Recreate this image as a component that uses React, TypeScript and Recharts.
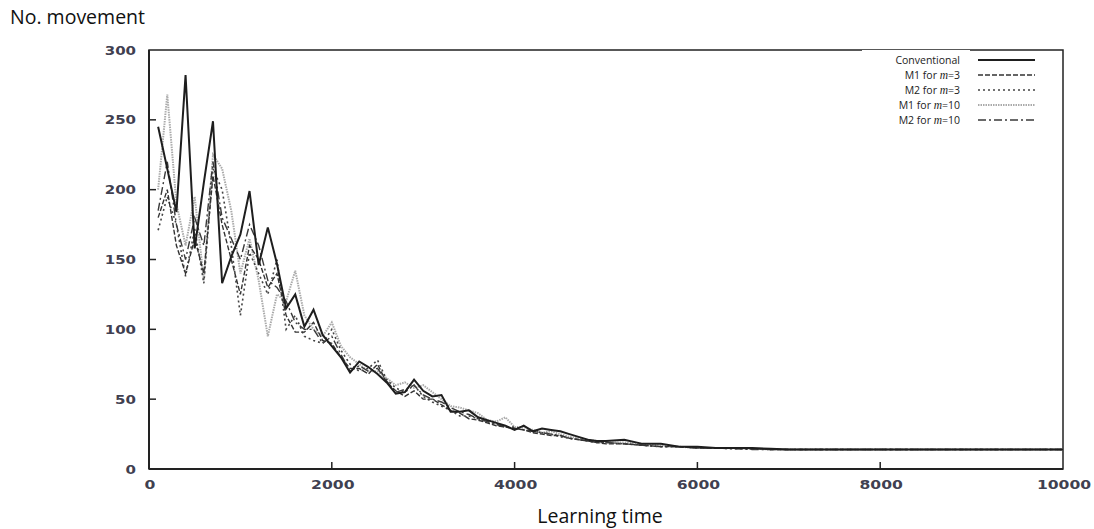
import React from 'react';
import { LineChart, Line, XAxis, YAxis, ReferenceArea, Legend, Label } from 'recharts';

const times = [
  100, 200, 300, 400, 500, 600, 700, 800, 900, 1000,
  1100, 1200, 1300, 1400, 1500, 1600, 1700, 1800, 1900, 2000,
  2100, 2200, 2300, 2400, 2500, 2600, 2700, 2800, 2900, 3000,
  3100, 3200, 3300, 3400, 3500, 3600, 3700, 3800, 3900, 4000,
  4100, 4200, 4300, 4400, 4500, 4600, 4700, 4800, 4900, 5000,
  5200, 5400, 5600, 5800, 6000, 6200, 6400, 6600, 6800, 7000,
  8000, 9000, 10000,
];

const conventional = [
  245, 215, 184, 282, 158, 205, 249, 133, 152, 168,
  199, 146, 173, 147, 115, 125, 102, 114, 96, 88,
  80, 69, 77, 73, 68, 62, 54, 55, 64, 56,
  52, 53, 41, 41, 42, 37, 35, 33, 31, 28,
  31, 27, 29, 28, 27, 25, 23, 21, 20, 20,
  21, 18, 18, 16, 16, 15, 15, 15, 14.5, 14,
  14, 14, 14,
];

const m1m3 = [
  180, 200, 160, 140, 165, 140, 210, 175, 150, 125,
  160, 150, 130, 140, 110, 98, 98, 105, 92, 90,
  80, 72, 72, 68, 75, 62, 56, 52, 56, 50,
  50, 46, 42, 40, 36, 35, 33, 31, 30, 29,
  28, 26, 25, 24, 24, 22, 21, 20, 19, 18,
  18, 17, 16, 16, 15, 15, 15, 14.5, 14, 14,
  14, 14, 14,
];

const m2m3 = [
  171, 195, 175, 138, 172, 133, 215, 200, 160, 110,
  155, 140, 125, 150, 100, 110, 95, 92, 90, 100,
  85, 75, 70, 72, 78, 64, 58, 55, 60, 52,
  48, 45, 42, 38, 38, 36, 34, 32, 30, 30,
  28, 27, 26, 25, 23, 22, 21, 20, 19, 19,
  18, 17, 16, 16, 15, 15, 14.5, 14.5, 14, 14,
  14, 14, 14,
];

const m1m10 = [
  200, 268, 190, 160, 195, 135, 225, 215, 185, 140,
  165, 135, 95, 125, 120, 142, 110, 100, 95, 105,
  88, 80, 75, 70, 70, 65, 60, 62, 58, 60,
  55, 50, 45, 44, 42, 40, 35, 34, 37, 30,
  30, 28, 26, 27, 25, 23, 22, 21, 20, 19,
  19, 18, 17, 16, 15, 15, 15, 14.5, 14, 14,
  14, 14, 14,
];

const m2m10 = [
  185, 220, 175, 150, 180, 160, 220, 180, 165, 150,
  175, 160, 135, 130, 120, 105, 100, 100, 90, 95,
  82, 70, 74, 70, 72, 63, 55, 57, 60, 53,
  50, 48, 44, 41, 39, 36, 34, 32, 30, 29,
  28, 27, 26, 25, 24, 22, 21, 20, 19, 19,
  18, 17, 16, 16, 15, 15, 14.5, 14, 14, 14,
  14, 14, 14,
];

const xTicks = [0, 2000, 4000, 6000, 8000, 10000];
const yTicks = [0, 50, 100, 150, 200, 250, 300];

const seriesDefs = [
  { key: 'conv', name: 'Conventional', m: '', color: '#1e1e1e', width: 2, dash: undefined as string | undefined },
  { key: 'm1m3', name: 'M1 for ', m: '=3', color: '#333', width: 1.4, dash: '5 2' },
  { key: 'm2m3', name: 'M2 for ', m: '=3', color: '#444', width: 1.6, dash: '2 3' },
  { key: 'm1m10', name: 'M1 for ', m: '=10', color: '#aaa', width: 2, dash: '1.5 1' },
  { key: 'm2m10', name: 'M2 for ', m: '=10', color: '#3a3a3a', width: 1.4, dash: '8 3 2 3' },
];

const data = times.map((t, i) => ({
  t,
  conv: conventional[i],
  m1m3: m1m3[i],
  m2m3: m2m3[i],
  m1m10: m1m10[i],
  m2m10: m2m10[i],
}));

const tickFont = {
  fontFamily: '"DejaVu Sans", sans-serif',
  fontWeight: 'bold' as const,
  fontSize: 12,
  fill: '#404050',
};

const YTick = (props: any) => {
  const { x, y, payload } = props;
  const v = payload.value;
  return (
    <g>
      {v !== 0 && v !== 300 && <line x1={x} x2={x + 7} y1={y} y2={y} stroke="#222" strokeWidth={1.5} />}
      <text
        transform={`translate(${x - 13},${y + 4.5}) scale(1.25,1)`}
        textAnchor="end"
        {...tickFont}
      >
        {v}
      </text>
    </g>
  );
};

const XTick = (props: any) => {
  const { x, y, payload } = props;
  const v = payload.value;
  return (
    <g>
      {v !== 0 && v !== 10000 && <line x1={x} x2={x} y1={y} y2={y - 7} stroke="#222" strokeWidth={1.5} />}
      <text
        transform={`translate(${x + 1},${y + 20}) scale(1.3,1)`}
        textAnchor="middle"
        {...tickFont}
      >
        {v}
      </text>
    </g>
  );
};

const LegendBox = () => {
  const rowY = [10, 25, 40, 55, 70];
  return (
    <svg width={180} height={80} style={{ display: 'block' }}>
      <rect x={0} y={0} width={108} height={78} fill="#fff" />
      {seriesDefs.map((s, i) => (
        <g key={s.key}>
          <text
            x={98}
            y={rowY[i] + 4}
            textAnchor="end"
            fontFamily='"Open Sans", sans-serif'
            fontSize={10.5}
            fill="#222"
          >
            {s.name}
            {s.m && (
              <>
                <tspan fontFamily='"Liberation Serif", serif' fontStyle="italic" fontSize={11.5}>m</tspan>
                <tspan>{s.m}</tspan>
              </>
            )}
          </text>
          <line
            x1={116}
            x2={173}
            y1={rowY[i]}
            y2={rowY[i]}
            stroke={s.color}
            strokeWidth={s.width}
            strokeDasharray={s.dash}
          />
        </g>
      ))}
    </svg>
  );
};

export default function App() {
  return (
    <div style={{ position: 'absolute', left: 0, top: 0, width: 1094, height: 529, background: '#fff' }}>
      <LineChart
        width={1094}
        height={529}
        data={data}
        margin={{ top: 50, right: 31, bottom: 30, left: 109 }}
      >
        <ReferenceArea x1={0} x2={10000} y1={0} y2={300} fill="none" stroke="#222" strokeWidth={1.5} ifOverflow="visible" />
        <XAxis
          dataKey="t"
          type="number"
          domain={[0, 10000]}
          ticks={xTicks}
          height={30}
          tickSize={0}
          tickMargin={0}
          tickLine={false}
          axisLine={{ stroke: '#222', strokeWidth: 2 }}
          tick={<XTick />}
          interval={0}
        >
          <Label
            content={() => (
              <text x={600} y={523} textAnchor="middle" fontFamily='"Open Sans", sans-serif' fontSize={19.5} fill="#111">
                Learning time
              </text>
            )}
          />
        </XAxis>
        <YAxis
          type="number"
          domain={[0, 300]}
          ticks={yTicks}
          width={40}
          tickSize={0}
          tickMargin={0}
          tickLine={false}
          axisLine={{ stroke: '#222', strokeWidth: 2 }}
          tick={<YTick />}
          interval={0}
        >
          <Label
            content={() => (
              <text x={10} y={24} fontFamily='"Open Sans", sans-serif' fontSize={19.5} fill="#111">
                No. movement
              </text>
            )}
          />
        </YAxis>
        <Line dataKey="m1m10" name="M1 for m=10" stroke="#aaa" strokeWidth={2} strokeDasharray="1.5 1" dot={false} isAnimationActive={false} />
        <Line dataKey="m2m10" name="M2 for m=10" stroke="#3a3a3a" strokeWidth={1.4} strokeDasharray="8 3 2 3" dot={false} isAnimationActive={false} />
        <Line dataKey="m2m3" name="M2 for m=3" stroke="#444" strokeWidth={1.6} strokeDasharray="2 3" dot={false} isAnimationActive={false} />
        <Line dataKey="m1m3" name="M1 for m=3" stroke="#333" strokeWidth={1.4} strokeDasharray="5 2" dot={false} isAnimationActive={false} />
        <Line dataKey="conv" name="Conventional" stroke="#1e1e1e" strokeWidth={2} dot={false} isAnimationActive={false} />
        <Legend
          layout="vertical"
          align="center"
          verticalAlign="middle"
          content={() => <LegendBox />}
          wrapperStyle={{ top: 50, left: 862, width: 180, height: 80 }}
        />
      </LineChart>
    </div>
  );
}
